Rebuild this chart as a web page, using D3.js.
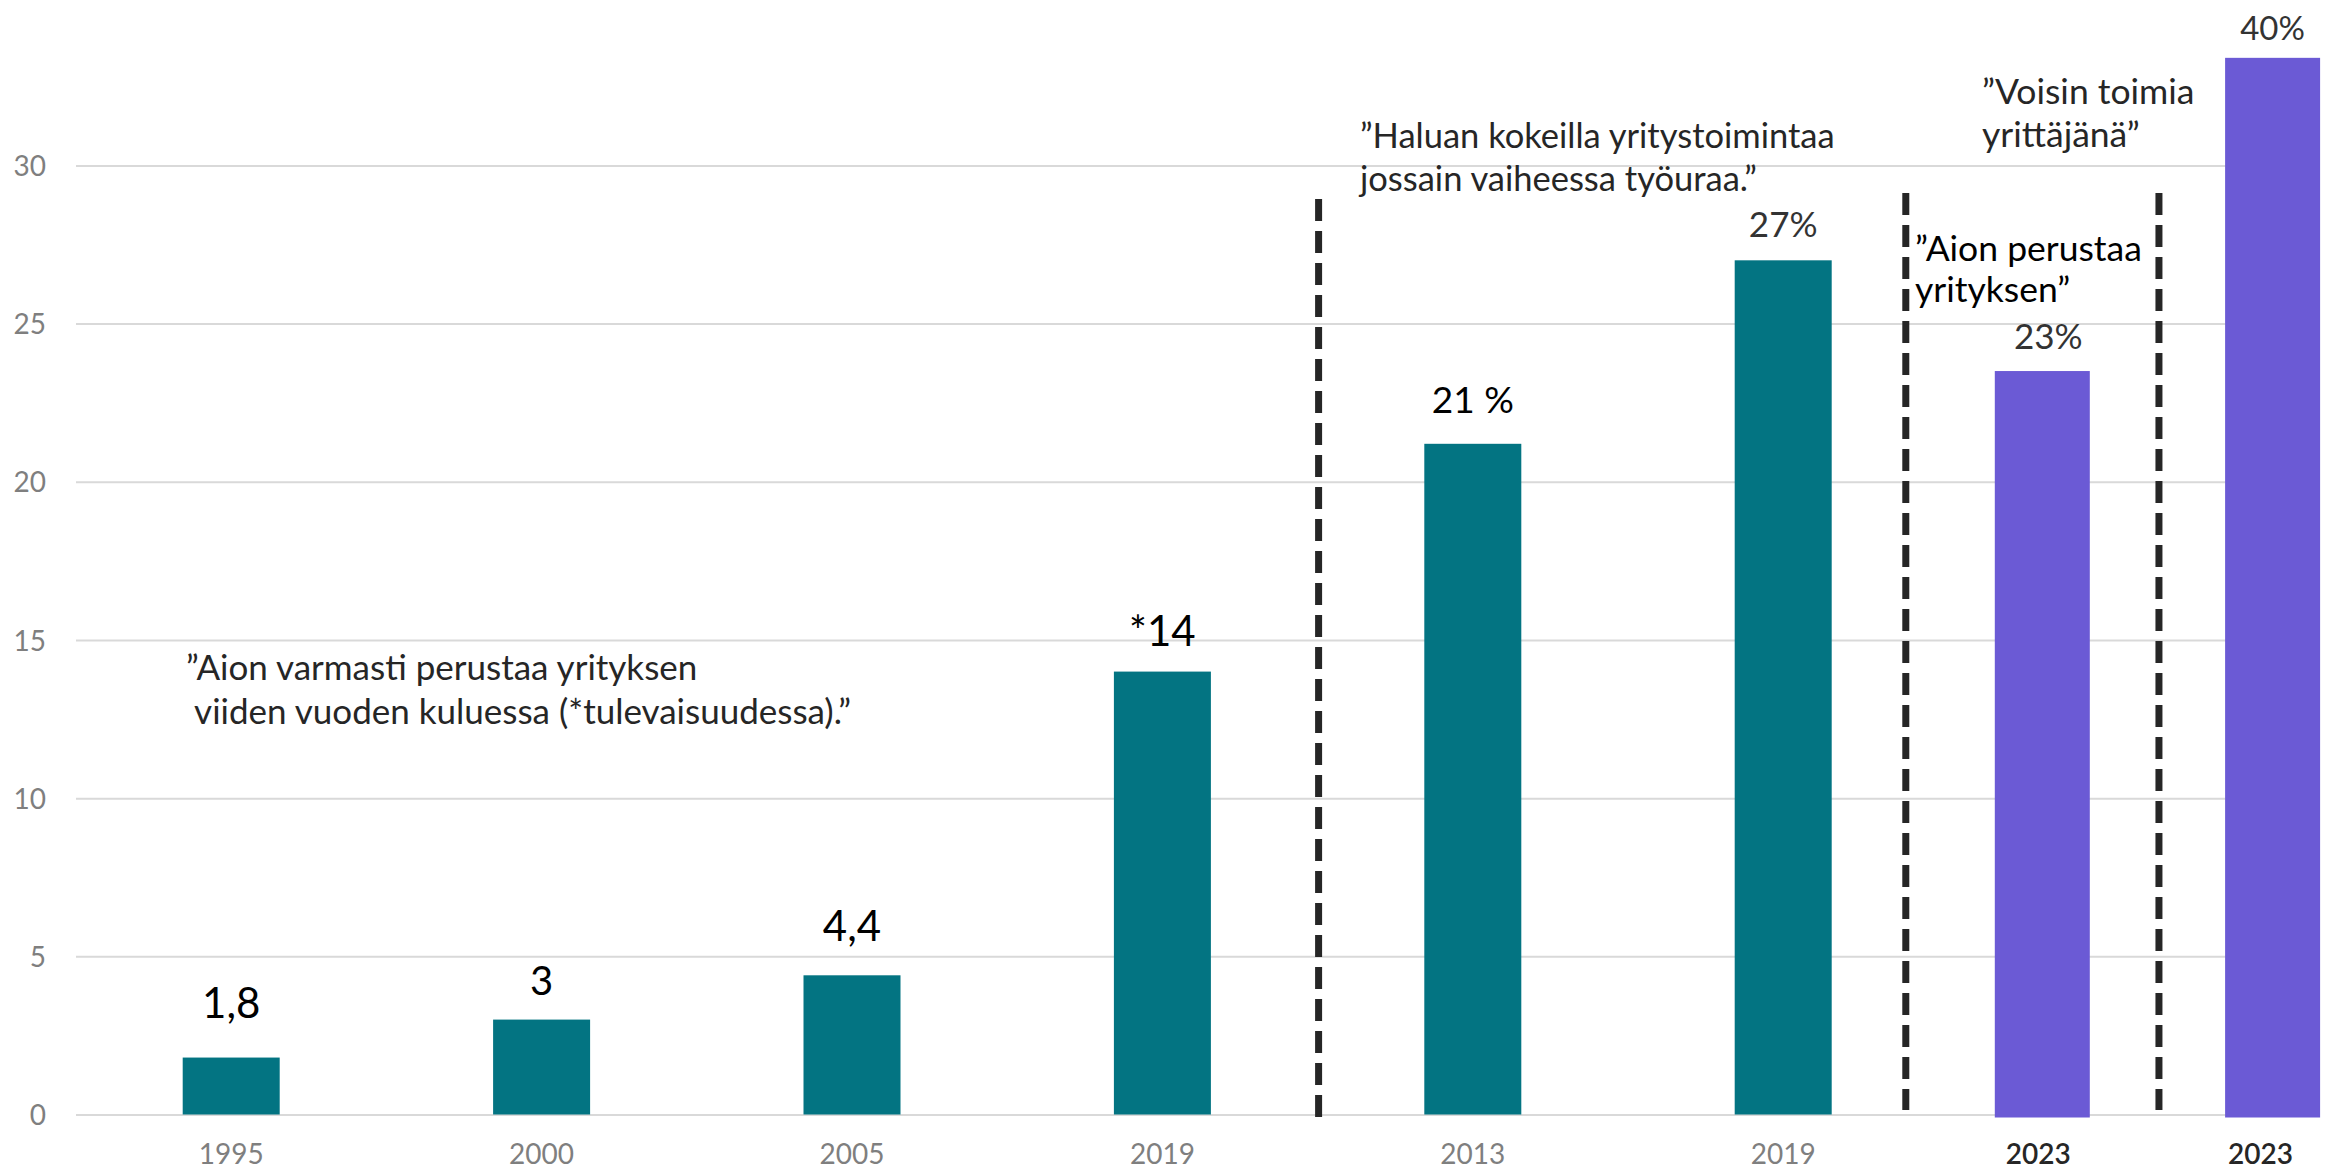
<!DOCTYPE html>
<html><head><meta charset="utf-8">
<script src="https://cdn.jsdelivr.net/npm/d3@7"></script>
<style>
html,body{margin:0;padding:0;background:#fff;}
svg{display:block;font-family:Lato,'Open Sans',sans-serif;}
</style>
</head><body>
<svg id="chart" width="2336" height="1171"></svg>
<script>
// ---- data ----
const tealYears = ["1995", "2000", "2005", "2019", "2013", "2019"];
const tealValues = [1.8, 3.0, 4.4, 14.0, 21.2, 27.0];
const tealLabels = ["1,8", "3", "4,4", "*14", "21 %", "27%"];
const purpleYears = ["2023", "2023"];
const purpleValues = [23.5, 33.4];
const purpleLabels = ["23%", "40%"];
const yTickValues = [0, 5, 10, 15, 20, 25, 30];
const noteVarmasti = ["”Aion varmasti perustaa yrityksen", " viiden vuoden kuluessa (*tulevaisuudessa).”"];
const noteKokeilla = ["”Haluan kokeilla yritystoimintaa", "jossain vaiheessa työuraa.”"];
const noteVoisin = ["”Voisin toimia", "yrittäjänä”"];
const notePerustaa = ["”Aion perustaa", "yrityksen”"];

// ---- layout / style ----
const TEAL = "#037482", PURPLE = "#6B5AD5";
const gridLeft = 76, gridRight = 2320;
const svg = d3.select("#chart");

const y = d3.scaleLinear().domain([0, 30]).range([1114.5, 165.4]);
const xT = d3.scaleBand().domain(d3.range(tealValues.length))
  .range([76, 1938.4]).paddingInner(0.6875).paddingOuter(0.34375);
const xP = d3.scaleBand().domain(d3.range(purpleValues.length))
  .range([1994.8, 2320.1]).paddingInner(0.5875).paddingOuter(0);

// gridlines + y ticks via axis
const yAxis = d3.axisLeft(y).tickValues(yTickValues)
  .tickSize(-(gridRight - gridLeft)).tickPadding(30).tickFormat(d3.format("d"));
const ga = svg.append("g").attr("transform", `translate(${gridLeft},0)`).call(yAxis);
ga.select(".domain").remove();
ga.selectAll(".tick line").attr("stroke", "#d9d9d9").attr("stroke-width", 2);
ga.selectAll(".tick text").attr("fill", "#7f7f7f").attr("font-size", 28)
  .attr("font-family", "Lato, 'Open Sans', sans-serif").attr("dy", "0.36em");

// teal bars
svg.append("g").selectAll("rect").data(tealValues).join("rect")
  .attr("x", (d, i) => xT(i)).attr("width", xT.bandwidth())
  .attr("y", d => y(d)).attr("height", d => y(0) - y(d))
  .attr("fill", TEAL);

// purple bars
svg.append("g").selectAll("rect").data(purpleValues).join("rect")
  .attr("x", (d, i) => xP(i)).attr("width", xP.bandwidth())
  .attr("y", d => y(d)).attr("height", d => y(0) - y(d) + 3)
  .attr("fill", PURPLE);

// value labels
const tealLabelGap = [40, 25, 34, 26, 31, 23];
const tealLabelSize = [42, 40, 42, 42, 37, 35];
const tealLabelColor = ["#000", "#000", "#000", "#000", "#000", "#333"];
svg.append("g").selectAll("text").data(tealLabels).join("text")
  .attr("x", (d, i) => xT(i) + xT.bandwidth() / 2)
  .attr("y", (d, i) => y(tealValues[i]) - tealLabelGap[i])
  .attr("text-anchor", "middle")
  .attr("font-size", (d, i) => tealLabelSize[i])
  .attr("fill", (d, i) => tealLabelColor[i])
  .text(d => d);

const purpleLabelGap = [22, 18];
svg.append("g").selectAll("text").data(purpleLabels).join("text")
  .attr("x", (d, i) => xP(i) + xP.bandwidth() / 2 + (i === 0 ? 6 : 0))
  .attr("y", (d, i) => y(purpleValues[i]) - purpleLabelGap[i])
  .attr("text-anchor", "middle")
  .attr("font-size", (d, i) => i === 0 ? 35 : 33)
  .attr("fill", "#333")
  .text(d => d);

// x labels
svg.append("g").selectAll("text").data(tealYears).join("text")
  .attr("x", (d, i) => xT(i) + xT.bandwidth() / 2)
  .attr("y", 1164)
  .attr("text-anchor", "middle").attr("font-size", 28).attr("fill", "#7f7f7f")
  .text(d => d);
svg.append("g").selectAll("text").data(purpleYears).join("text")
  .attr("x", (d, i) => xP(i) + xP.bandwidth() / 2 - (i === 0 ? 4 : 12))
  .attr("y", 1164)
  .attr("text-anchor", "middle").attr("font-size", 28).attr("fill", "#262626")
  .attr("font-weight", 600)
  .text(d => d);

// dashed dividers
const dividers = [
  { x: xT.range()[0] + xT.step() * 4 + 1, top: 199, bottom: 1117 },
  { x: xP(0) - 89, top: 193, bottom: 1110 },
  { x: (xP(0) + xP.bandwidth() + xP(1)) / 2 + 1.5, top: 193, bottom: 1110 }
];
svg.append("g").selectAll("line").data(dividers).join("line")
  .attr("x1", d => d.x).attr("x2", d => d.x)
  .attr("y1", d => d.top).attr("y2", d => d.bottom)
  .attr("stroke", "#262626").attr("stroke-width", 7)
  .attr("stroke-dasharray", "22 10");

// annotations
function note(lines, x, y0, lh, size, color) {
  const t = svg.append("text").attr("font-size", size).attr("fill", color)
    .attr("xml:space", "preserve").style("white-space", "pre");
  lines.forEach((s, i) => t.append("tspan").attr("x", x).attr("y", y0 + i * lh).text(s));
}
note(noteVarmasti, 186, 680, 44, 35, "#262626");
note(noteKokeilla, 1360, 148, 43, 34.5, "#262626");
note(noteVoisin, 1982, 104, 43, 35.5, "#262626");
note(notePerustaa, 1915, 261, 41, 35.5, "#000");
</script>
</body></html>
